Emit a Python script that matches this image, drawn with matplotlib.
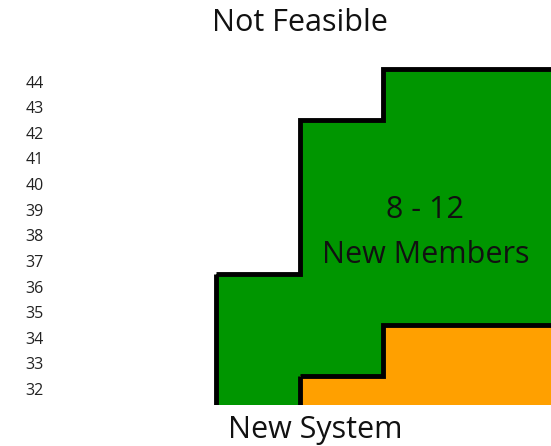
import matplotlib
matplotlib.use("Agg")
import matplotlib.pyplot as plt
import numpy as np

plt.rcParams['font.family'] = ['Open Sans', 'DejaVu Sans']

# Data
y_ticks = [32, 33, 34, 35, 36, 37, 38, 39, 40, 41, 42, 43, 44]
green_edges = [2, 3, 4, 5, 6]
green_tops = [36.5, 42.5, 44.5, 44.5]
orange_edges = [3, 4, 5, 6]
orange_tops = [32.5, 34.5, 34.5]
baseline = 31.38
title_text = "Not Feasible"
bottom_text = "New System"
region_label_1 = "8 - 12"
region_label_2 = "New Members"

GREEN = "#009600"
ORANGE = "#FFA000"

fig = plt.figure(figsize=(5.51, 4.46), dpi=100)
ax = fig.add_axes([48/551, 41/446, 503/551, 349/446])

ax.stairs(green_tops, green_edges, baseline=baseline, fill=True, color=GREEN, zorder=1)
ax.stairs(orange_tops, orange_edges, baseline=baseline, fill=True, color=ORANGE, zorder=2)

lw = 3.5
ax.stairs(green_tops, green_edges, baseline=None, color="black", lw=lw, zorder=3)
ax.vlines(green_edges[0], baseline, green_tops[0], color="black", lw=lw, zorder=3)
ax.stairs(orange_tops, orange_edges, baseline=None, color="black", lw=lw, zorder=3)
ax.vlines(orange_edges[0], baseline, orange_tops[0], color="black", lw=lw, zorder=3)

ax.set_xlim(0, 6)
ax.set_ylim(baseline, 45.0)
ax.set_yticks(y_ticks)
ax.set_yticklabels([str(t) for t in y_ticks], fontsize=11.5, color="#222222")
ax.tick_params(axis='y', length=0, pad=3)
ax.set_xticks([])
for s in ax.spines.values():
    s.set_visible(False)

ax.text(4.5, 39.0, region_label_1, ha="center", va="center", fontsize=22, color="#111111")
ax.text(4.5, 37.25, region_label_2, ha="center", va="center", fontsize=22, color="#111111")

fig.text(300/551, 1 - 23/446, title_text, ha="center", va="center", fontsize=22, color="#111111")
fig.text(315/551, 1 - 430/446, bottom_text, ha="center", va="center", fontsize=22, color="#111111")

fig.savefig("out.png", dpi=100)
